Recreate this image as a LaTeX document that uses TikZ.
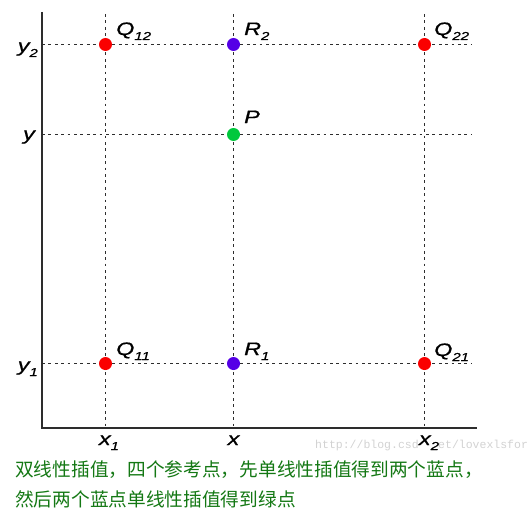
\documentclass[tikz,border=0pt]{standalone}
\usepackage{fontspec}
\setmainfont{Liberation Sans}
\newfontfamily\lblfont[FakeBold=0.7]{Liberation Sans}
\newfontfamily\cjk{Noto Sans CJK SC}
\newfontfamily\wmfont{Liberation Mono}
\definecolor{dotred}{RGB}{250,0,0}
\definecolor{dotblue}{RGB}{85,0,230}
\definecolor{dotgreen}{RGB}{0,200,60}
\definecolor{capgreen}{RGB}{20,120,20}
\definecolor{axisgray}{RGB}{45,45,45}
\definecolor{wmgray}{RGB}{210,210,210}
\newcommand{\lbl}[2]{\scalebox{1.3}[1]{\lblfont\fontsize{18}{18}\selectfont\itshape #1\raisebox{-5pt}{\fontsize{11.5}{11.5}\selectfont\itshape #2}}}
\begin{document}
\begin{tikzpicture}[x=1pt,y=-1pt,
  gridline/.style={axisgray,line width=1.9pt,dash pattern=on 2.8pt off 3.6pt},
  axisline/.style={axisgray,line width=1.9pt},
  dot/.style={circle,inner sep=0pt,minimum size=13pt},
  lab/.style={inner sep=0pt,anchor=base west},
  tick/.style={inner sep=0pt,anchor=base},
  wm/.style={inner sep=0pt,anchor=base west,text=wmgray,font=\wmfont\fontsize{11.5}{11.5}\selectfont},
  captext/.style={inner sep=0pt,anchor=base west,text=capgreen,font=\cjk\fontsize{18.7}{18.7}\selectfont}]
\useasboundingbox (0,0) rectangle (528,532);
% axes
\coordinate (top) at (42,12);
\coordinate (origin) at (42,428);
\coordinate (xend) at (477,428);
\draw[axisline] (top) -- (origin) -- (xend);
% grid end points
\coordinate (y2l) at (42,44.5);
\coordinate (y2r) at (472,44.5);
\coordinate (yl) at (42,134.5);
\coordinate (yr) at (472,134.5);
\coordinate (y1l) at (42,363.5);
\coordinate (y1r) at (472,363.5);
\coordinate (x1t) at (105.5,14);
\coordinate (x1b) at (105.5,428);
\coordinate (xt) at (233.5,14);
\coordinate (xb) at (233.5,428);
\coordinate (x2t) at (424.5,14);
\coordinate (x2b) at (424.5,428);
\draw[gridline] (y2l) -- (y2r);
\draw[gridline] (yl) -- (yr);
\draw[gridline] (y1l) -- (y1r);
\draw[gridline] (x1t) -- (x1b);
\draw[gridline] (xt) -- (xb);
\draw[gridline] (x2t) -- (x2b);
% watermark (partly hidden behind x2)
\node[wm] (wm1) at (315,448) {http://blog.csd};
\node[wm] (wm2) at (438,448) {et/lovexlsfor};
% points
\node[dot,fill=dotred] (Q12) at (105.5,44.5) {};
\node[dot,fill=dotblue] (R2) at (233.5,44.5) {};
\node[dot,fill=dotred] (Q22) at (424.5,44.5) {};
\node[dot,fill=dotgreen] (P) at (233.5,134.5) {};
\node[dot,fill=dotred] (Q11) at (105.5,363.5) {};
\node[dot,fill=dotblue] (R1) at (233.5,363.5) {};
\node[dot,fill=dotred] (Q21) at (424.5,363.5) {};
% point labels
\node[lab] (lQ12) at (116,35) {\lbl{Q}{12}};
\node[lab] (lR2) at (244,35) {\lbl{R}{2}};
\node[lab] (lQ22) at (434,35) {\lbl{Q}{22}};
\node[lab] (lP) at (244,123) {\lbl{P}{}};
\node[lab] (lQ11) at (116,355) {\lbl{Q}{11}};
\node[lab] (lR1) at (244,355) {\lbl{R}{1}};
\node[lab] (lQ21) at (434,356) {\lbl{Q}{21}};
% axis labels
\node[inner sep=0pt,anchor=base east] (ly2) at (38,52) {\lbl{y}{2}};
\node[inner sep=0pt,anchor=base east] (ly) at (35,140) {\lbl{y}{}};
\node[inner sep=0pt,anchor=base east] (ly1) at (38,371) {\lbl{y}{1}};
\node[tick] (lx1) at (109,445) {\lbl{x}{1}};
\node[tick] (lx) at (233.5,445) {\lbl{x}{}};
\node[tick] (lx2) at (429,445) {\lbl{x}{2}};
% caption
\node[captext] (c1) at (15,476) {双线性插值，四个参考点，先单线性插值得到两个蓝点，};
\node[captext] (c2) at (15,506) {然后两个蓝点单线性插值得到绿点};
\end{tikzpicture}
\end{document}
